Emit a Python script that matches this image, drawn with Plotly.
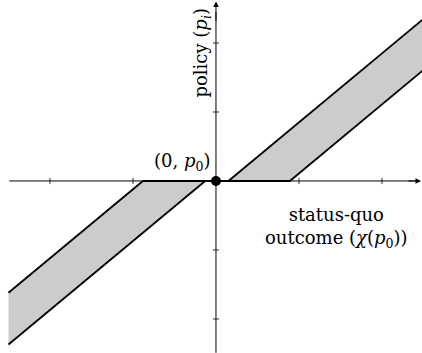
import plotly.graph_objects as go

# Band boundaries: lines of slope 1 meeting the horizontal axis at these x values
slope = 1.0
right_upper_x0 = 0.15
right_lower_x0 = 0.89
left_upper_x0 = -0.88
left_lower_x0 = -0.13
x_edge = 2.5

x_ticks = [-2, -1, 1, 2]
y_ticks = [-2, -1, 1, 2]

x_range = [-2.602, 2.482]
y_range = [-2.493, 2.623]

band_fill = "#cccccc"
ink = "black"


def line_y(x, x0):
    return slope * (x - x0)


fig = go.Figure()

# shaded bands
fig.add_trace(go.Scatter(
    x=[right_upper_x0, right_lower_x0, x_edge, x_edge],
    y=[0, 0, line_y(x_edge, right_lower_x0), line_y(x_edge, right_upper_x0)],
    fill="toself", fillcolor=band_fill, line=dict(width=0), mode="lines",
    hoverinfo="skip", showlegend=False))
fig.add_trace(go.Scatter(
    x=[left_lower_x0, left_upper_x0, -x_edge, -x_edge],
    y=[0, 0, line_y(-x_edge, left_upper_x0), line_y(-x_edge, left_lower_x0)],
    fill="toself", fillcolor=band_fill, line=dict(width=0), mode="lines",
    hoverinfo="skip", showlegend=False))

# axes with ticks
fig.add_shape(type="line", x0=-2.49, x1=2.45, y0=0, y1=0,
              line=dict(color=ink, width=1))
fig.add_shape(type="line", x0=0, x1=0, y0=-2.49, y1=2.45,
              line=dict(color=ink, width=1))
fig.add_annotation(x=2.47, y=0, ax=2.3, ay=0, axref="x", ayref="y",
                   xref="x", yref="y", showarrow=True, arrowhead=2,
                   arrowsize=1.1, arrowwidth=1, arrowcolor=ink, text="")
fig.add_annotation(x=0, y=2.6, ax=0, ay=2.3, axref="x", ayref="y",
                   xref="x", yref="y", showarrow=True, arrowhead=2,
                   arrowsize=1.1, arrowwidth=1, arrowcolor=ink, text="")
for t in x_ticks:
    fig.add_shape(type="line", x0=t, x1=t, y0=-0.045, y1=0.045,
                  line=dict(color=ink, width=0.8))
for t in y_ticks:
    fig.add_shape(type="line", x0=-0.037, x1=0.037, y0=t, y1=t,
                  line=dict(color=ink, width=0.8))

# boundary lines
bw = 1.8
fig.add_trace(go.Scatter(
    x=[-x_edge, left_upper_x0, 0, right_lower_x0, x_edge],
    y=[line_y(-x_edge, left_upper_x0), 0, 0, 0, line_y(x_edge, right_lower_x0)],
    mode="lines", line=dict(color=ink, width=bw), hoverinfo="skip", showlegend=False))
fig.add_trace(go.Scatter(
    x=[right_upper_x0, x_edge], y=[0, line_y(x_edge, right_upper_x0)],
    mode="lines", line=dict(color=ink, width=bw), hoverinfo="skip", showlegend=False))
fig.add_trace(go.Scatter(
    x=[-x_edge, left_lower_x0], y=[line_y(-x_edge, left_lower_x0), 0],
    mode="lines", line=dict(color=ink, width=bw), hoverinfo="skip", showlegend=False))

# status-quo point
fig.add_trace(go.Scatter(x=[0], y=[0], mode="markers",
                         marker=dict(color=ink, size=10), hoverinfo="skip",
                         showlegend=False))

font = dict(family="DejaVu Serif", size=18, color=ink)
fig.add_annotation(x=-0.04, y=0.275, xref="x", yref="y", showarrow=False,
                   xanchor="right", text="(0, <i>p</i><sub>0</sub>)", font=font)
fig.add_annotation(x=-0.17, y=1.86, xref="x", yref="y", showarrow=False,
                   text="policy (<i>p<sub>i</sub></i>)", textangle=-90, font=font)
fig.add_annotation(x=1.446, y=-0.68, xref="x", yref="y", showarrow=False,
                   text="status-quo<br>outcome (<i>χ</i>(<i>p</i><sub>0</sub>))",
                   font=font, align="center")

fig.update_layout(
    width=422, height=353, margin=dict(l=0, r=0, t=0, b=0),
    paper_bgcolor="white", plot_bgcolor="white",
    xaxis=dict(range=x_range, visible=False, fixedrange=True),
    yaxis=dict(range=y_range, visible=False, fixedrange=True),
)

fig.write_html("out.html")
